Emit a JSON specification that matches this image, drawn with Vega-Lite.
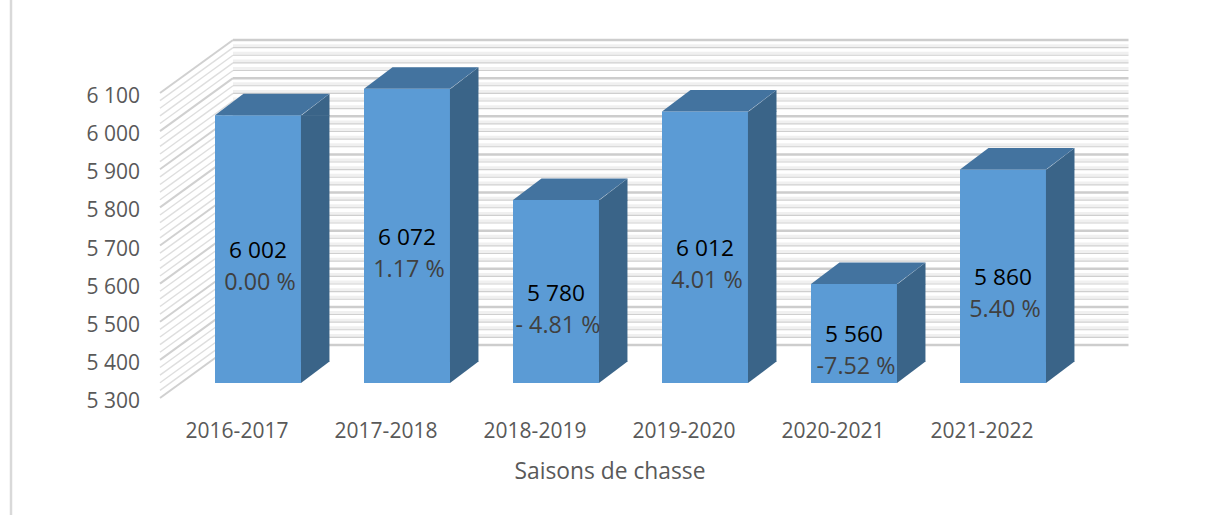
{"$schema":"https://vega.github.io/schema/vega-lite/v6.json","autosize":"none","width":894,"height":305,"padding":{"left":162.5,"top":93,"right":151.5,"bottom":117},"background":"white","view":{"stroke":null},
"config":{"font":"Open Sans"},
"datasets":{"seasons":[
{"season":"2016-2017","value":6002,"label":"6 002","variation":"0.00 %"},
{"season":"2017-2018","value":6072,"label":"6 072","variation":"1.17 %"},
{"season":"2018-2019","value":5780,"label":"5 780","variation":"- 4.81 %"},
{"season":"2019-2020","value":6012,"label":"6 012","variation":"4.01 %"},
{"season":"2020-2021","value":5560,"label":"5 560","variation":"-7.52 %"},
{"season":"2021-2022","value":5860,"label":"5 860","variation":"5.40 %"}],
"major":[{"v":5300},{"v":5400},{"v":5500},{"v":5600},{"v":5700},{"v":5800},{"v":5900},{"v":6000},{"v":6100}],
"minor":[{"v":5320},{"v":5340},{"v":5360},{"v":5380},{"v":5420},{"v":5440},{"v":5460},{"v":5480},{"v":5520},{"v":5540},{"v":5560},{"v":5580},{"v":5620},{"v":5640},{"v":5660},{"v":5680},{"v":5720},{"v":5740},{"v":5760},{"v":5780},{"v":5820},{"v":5840},{"v":5860},{"v":5880},{"v":5920},{"v":5940},{"v":5960},{"v":5980},{"v":6020},{"v":6040},{"v":6060},{"v":6080}]},
"resolve":{"scale":{"y":"independent"}},
"layer":[
{"data":{"values":[{"a":1}]},"mark":{"type":"rule","color":"#d9d9d9","strokeWidth":2.5},"encoding":{"x":{"value":-151.5},"y":{"value":-93},"y2":{"value":422}}},
{"data":{"name":"minor"},"mark":{"type":"rule","color":"#f0f0f0","strokeWidth":3,"yOffset":-55,"y2Offset":-55},"encoding":{"x":{"value":70.5},"x2":{"value":966},"y":{"field":"v","type":"quantitative","scale":{"domain":[5300,6100],"nice":false,"zero":false},"axis":null}}},
{"data":{"name":"minor"},"mark":{"type":"rule","color":"#cfcfcf","strokeWidth":1.2,"yOffset":-53,"y2Offset":-53},"encoding":{"x":{"value":70.5},"x2":{"value":966},"y":{"field":"v","type":"quantitative","scale":{"domain":[5300,6100],"nice":false,"zero":false},"axis":null}}},
{"data":{"name":"major"},"mark":{"type":"rule","color":"#cdcdcd","strokeWidth":2.5,"yOffset":-53,"y2Offset":-53},"encoding":{"x":{"value":70.5},"x2":{"value":966},"y":{"field":"v","type":"quantitative","scale":{"domain":[5300,6100],"nice":false,"zero":false},"axis":null}}},
{"data":{"name":"minor"},"mark":{"type":"rule","color":"#dedede","strokeWidth":1.4,"y2Offset":-53},"encoding":{"x":{"value":-2.5},"x2":{"value":70.5},"y":{"field":"v","type":"quantitative","scale":{"domain":[5300,6100],"nice":false,"zero":false},"axis":null},"y2":{"field":"v"}}},
{"data":{"name":"major"},"mark":{"type":"rule","color":"#d0d0d0","strokeWidth":2,"y2Offset":-53},"encoding":{"x":{"value":-2.5},"x2":{"value":70.5},"y":{"field":"v","type":"quantitative","scale":{"domain":[5300,6100],"nice":false,"zero":false},"axis":null},"y2":{"field":"v"}}},
{"data":{"name":"seasons"},"mark":{"type":"bar","color":"#5b9bd5","width":86,"xOffset":21,"yOffset":-15,"y2Offset":-15},"encoding":{
"x":{"field":"season","type":"nominal","sort":null,"scale":{"type":"band","paddingInner":0,"paddingOuter":0},"title":"Saisons de chasse","axis":{"domain":false,"ticks":false,"labelAngle":0,"labelFont":"Open Sans","labelFontSize":21,"labelColor":"#595959","labelPadding":22,"titleFont":"Open Sans","titleFontSize":22.8,"titleFontWeight":"normal","titleColor":"#595959","titlePadding":19}},
"y":{"field":"value","type":"quantitative","scale":{"domain":[5300,6100],"nice":false,"zero":false},"axis":{"values":[5300,5400,5500,5600,5700,5800,5900,6000,6100],"title":null,"domain":false,"ticks":false,"grid":false,"labelExpr":"replace(format(datum.value,','),',',' ')","labelFont":"Open Sans","labelFontSize":21,"labelColor":"#595959","labelPadding":23,"labelOffset":3.5}},
"y2":{"datum":5300}}},
{"data":{"name":"seasons"},"mark":{"type":"bar","color":"#3a6488","width":28.5,"xOffset":78.2,"yOffset":-15,"y2Offset":-36},"encoding":{
"x":{"field":"season","type":"nominal","sort":null},
"y":{"field":"value","type":"quantitative","scale":{"domain":[5300,6100],"nice":false,"zero":false},"axis":null},
"y2":{"datum":5300}}},
{"data":{"name":"seasons"},"mark":{"type":"point","filled":true,"opacity":1,"color":"#3a6488","strokeWidth":0,"size":4,"xOffset":21,"yOffset":-15,"shape":"M43 0.5L71.5 -21.5L71.5 0.5Z"},"encoding":{
"x":{"field":"season","type":"nominal","sort":null},
"y":{"field":"value","type":"quantitative","scale":{"domain":[5300,6100],"nice":false,"zero":false},"axis":null}}},
{"data":{"name":"seasons"},"mark":{"type":"point","filled":true,"opacity":1,"color":"#3a6488","strokeWidth":0,"size":4,"xOffset":21,"yOffset":-15,"shape":"M43 0L71.5 -21.5L43 -21.5Z"},"encoding":{
"x":{"field":"season","type":"nominal","sort":null},
"y":{"datum":5300,"type":"quantitative","scale":{"domain":[5300,6100],"nice":false,"zero":false},"axis":null}}},
{"data":{"name":"seasons"},"mark":{"type":"point","filled":true,"opacity":1,"color":"#43739f","strokeWidth":0,"size":4,"xOffset":21,"yOffset":-15,"shape":"M-43 0L43 0L71.5 -21.5L-14.5 -21.5Z"},"encoding":{
"x":{"field":"season","type":"nominal","sort":null},
"y":{"field":"value","type":"quantitative","scale":{"domain":[5300,6100],"nice":false,"zero":false},"axis":null}}},
{"data":{"name":"seasons"},"mark":{"type":"text","font":"Open Sans","fontSize":22.7,"color":"#000000","xOffset":21,"yOffset":-13,"baseline":"middle"},"encoding":{
"x":{"field":"season","type":"nominal","sort":null},
"y":{"field":"value","type":"quantitative","scale":{"domain":[5300,6900],"nice":false,"zero":false},"axis":null},
"text":{"field":"label"}}},
{"data":{"name":"seasons"},"mark":{"type":"text","font":"Open Sans","fontSize":23.3,"color":"#404040","xOffset":23,"yOffset":19,"baseline":"middle"},"encoding":{
"x":{"field":"season","type":"nominal","sort":null},
"y":{"field":"value","type":"quantitative","scale":{"domain":[5300,6900],"nice":false,"zero":false},"axis":null},
"text":{"field":"variation"}}}
]}
